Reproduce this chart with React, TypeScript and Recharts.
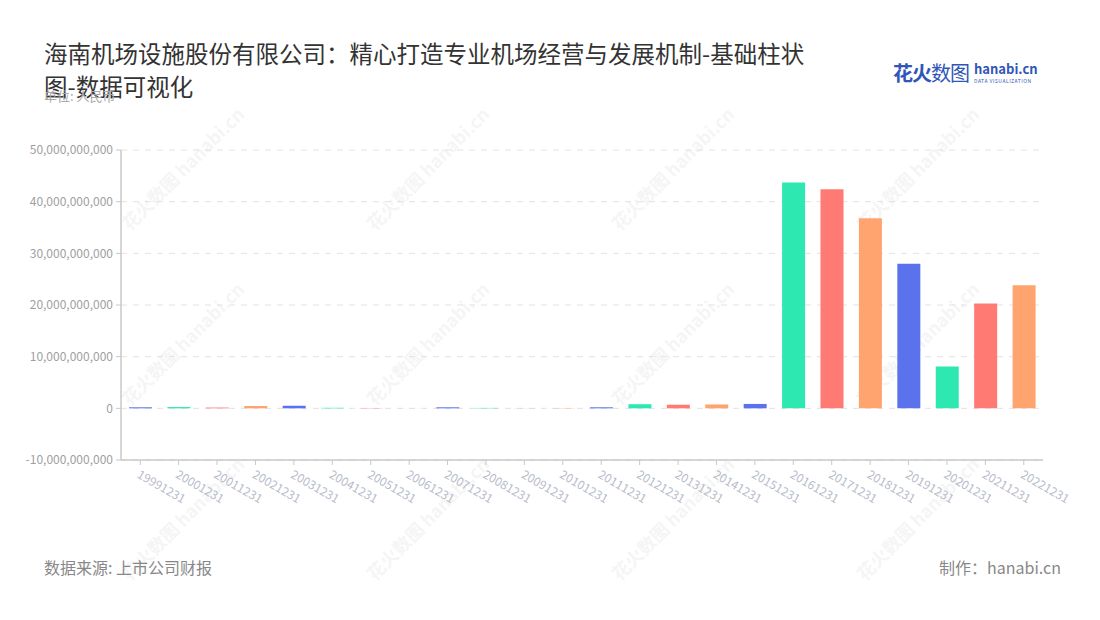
import { Bar, BarChart, CartesianGrid, Cell, XAxis, YAxis } from 'recharts'

const periods = [
  '19991231', '20001231', '20011231', '20021231', '20031231', '20041231',
  '20051231', '20061231', '20071231', '20081231', '20091231', '20101231',
  '20111231', '20121231', '20131231', '20141231', '20151231', '20161231',
  '20171231', '20181231', '20191231', '20201231', '20211231', '20221231',
]

// 单位: 人民币
const amounts = [
  0.2e9, 0.25e9, 0.15e9, 0.45e9, 0.5e9, 0.1e9,
  0.05e9, 0.01e9, 0.2e9, 0.08e9, 0.02e9, 0.05e9,
  0.2e9, 0.8e9, 0.7e9, 0.75e9, 0.85e9, 43.7e9,
  42.4e9, 36.8e9, 28.0e9, 8.1e9, 20.3e9, 23.8e9,
]

const yTicks = [-10e9, 0, 10e9, 20e9, 30e9, 40e9, 50e9]

const palette = ['#5a73ec', '#2ee8b2', '#ff7a72', '#ffa46f']

const data = periods.map((p, i) => ({ period: p, amount: amounts[i] }))

const font = '"Noto Sans CJK SC", "Noto Sans", sans-serif'

const marks = [
  [150, 165], [395, 165], [640, 165], [885, 165],
  [150, 340], [395, 340], [640, 340], [885, 340],
  [150, 515], [395, 515], [640, 515], [885, 515],
]

function XTick({ x, y, payload }: any) {
  return (
    <text
      x={x - 4}
      y={y + 10}
      transform={`rotate(30 ${x - 4} ${y + 10})`}
      fill="#b8bccb"
      fontSize={12}
      fontFamily={font}
      textAnchor="start"
    >
      {payload.value}
    </text>
  )
}

export default function App() {
  return (
    <div
      style={{
        position: 'absolute',
        left: 0,
        top: 0,
        width: 1100,
        height: 620,
        background: '#fff',
        fontFamily: font,
        overflow: 'hidden',
      }}
    >
      {marks.map(([x, y], i) => (
        <div
          key={i}
          style={{
            position: 'absolute',
            left: x - 50,
            top: y - 10,
            transform: 'rotate(-45deg)',
            color: '#000',
            opacity: 0.035,
            fontSize: 18,
            fontWeight: 700,
            whiteSpace: 'nowrap',
            pointerEvents: 'none',
          }}
        >
          花火数图 hanabi.cn
        </div>
      ))}

      <div
        style={{
          position: 'absolute',
          left: 44,
          top: 37,
          width: 800,
          fontSize: 23.5,
          lineHeight: '33px',
          color: '#333',
          whiteSpace: 'nowrap',
        }}
      >
        海南机场设施股份有限公司：精心打造专业机场经营与发展机制-基础柱状
        <br />
        图-数据可视化
      </div>
      <div style={{ position: 'absolute', left: 44, top: 86, fontSize: 13, color: '#aaa' }}>
        单位: 人民币
      </div>

      <div style={{ position: 'absolute', left: 893, top: 58, display: 'flex', alignItems: 'center' }}>
        <span style={{ fontSize: 20, fontWeight: 700, color: '#2f56b8', letterSpacing: -1 }}>花火</span>
        <span style={{ fontSize: 20, color: '#2f56b8', letterSpacing: -1 }}>数图</span>
        <div style={{ marginLeft: 5, display: 'flex', flexDirection: 'column', lineHeight: 1 }}>
          <span style={{ fontSize: 13, fontWeight: 700, color: '#2f56b8' }}>hanabi.cn</span>
          <span style={{ fontSize: 5, marginTop: 3, color: '#2f56b8', letterSpacing: 0.5 }}>DATA VISUALIZATION</span>
        </div>
      </div>

      <div style={{ position: 'absolute', top: 0, left: 0 }}>
        <BarChart
          width={1100}
          height={620}
          data={data}
          margin={{ top: 150, right: 57, left: 0, bottom: 0 }}
        >
          <CartesianGrid horizontal vertical={false} stroke="#e2e2e2" strokeDasharray="6 6" />
          <XAxis
            dataKey="period"
            height={160}
            interval={0}
            axisLine={{ stroke: '#c8c8c8', strokeWidth: 1.5 }}
            tickLine={{ stroke: '#c8c8c8' }}
            tickSize={5}
            tick={<XTick />}
          />
          <YAxis
            width={121}
            domain={[-10e9, 50e9]}
            ticks={yTicks}
            interval={0}
            axisLine={{ stroke: '#c8c8c8', strokeWidth: 1.5 }}
            tickLine={{ stroke: '#c8c8c8' }}
            tickSize={5}
            tickMargin={3}
            tick={{ fill: '#a0a0a0', fontSize: 12, fontFamily: font }}
            tickFormatter={(v: number) => v.toLocaleString('en-US')}
          />
          <Bar dataKey="amount" barSize={23} isAnimationActive={false}>
            {data.map((_, i) => (
              <Cell key={i} fill={palette[i % palette.length]} />
            ))}
          </Bar>
        </BarChart>
      </div>

      <div style={{ position: 'absolute', left: 44, top: 555, fontSize: 16, color: '#888' }}>
        数据来源: 上市公司财报
      </div>
      <div style={{ position: 'absolute', right: 39, top: 555, fontSize: 16, color: '#888' }}>
        制作：hanabi.cn
      </div>
    </div>
  )
}
